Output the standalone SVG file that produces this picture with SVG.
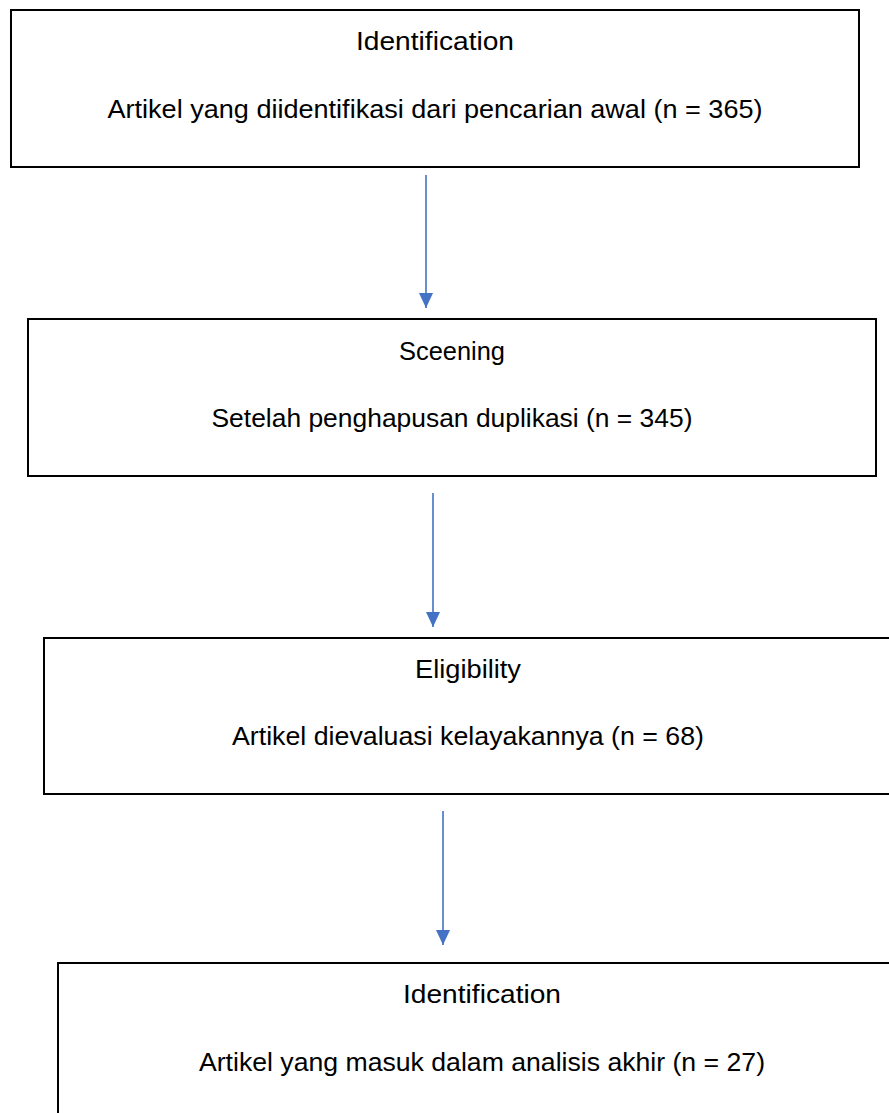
<svg xmlns="http://www.w3.org/2000/svg" width="889" height="1113" viewBox="0 0 889 1113">
<style>
.box{fill:#ffffff;stroke:#000000;stroke-width:2}
.t{font-family:"Liberation Sans",Arial,sans-serif;font-size:26px;fill:#000000;text-anchor:middle}
.conn{stroke:#4472C4;stroke-width:1.6;fill:none}
</style>
<defs>
<marker id="ah" markerUnits="userSpaceOnUse" viewBox="0 -8 16 16" refX="15" refY="0" markerWidth="16" markerHeight="16" orient="auto" overflow="visible">
<path d="M0,-7 L15,0 L0,7 Z" fill="#4472C4"/>
</marker>
</defs>
<rect width="889" height="1113" fill="#ffffff"/>
<g id="connectors">
<line class="conn" x1="426" y1="175" x2="426" y2="308" marker-end="url(#ah)"/>
<line class="conn" x1="433" y1="493" x2="433" y2="627" marker-end="url(#ah)"/>
<line class="conn" x1="443" y1="811" x2="443" y2="945" marker-end="url(#ah)"/>
</g>
<g id="node-identification">
<rect class="box" x="11" y="10" width="848" height="157"/>
<text class="t" x="435" y="50" textLength="158" lengthAdjust="spacingAndGlyphs">Identification</text>
<text class="t" x="435" y="118" textLength="655" lengthAdjust="spacingAndGlyphs">Artikel yang diidentifikasi dari pencarian awal (n = 365)</text>
</g>
<g id="node-screening">
<rect class="box" x="28" y="319" width="848" height="157"/>
<text class="t" x="452" y="360" textLength="106" lengthAdjust="spacingAndGlyphs">Sceening</text>
<text class="t" x="452" y="427" textLength="481" lengthAdjust="spacingAndGlyphs">Setelah penghapusan duplikasi (n = 345)</text>
</g>
<g id="node-eligibility">
<rect class="box" x="44" y="638" width="848" height="156"/>
<text class="t" x="468" y="678" textLength="106" lengthAdjust="spacingAndGlyphs">Eligibility</text>
<text class="t" x="468" y="745" textLength="472" lengthAdjust="spacingAndGlyphs">Artikel dievaluasi kelayakannya (n = 68)</text>
</g>
<g id="node-included">
<rect class="box" x="58" y="963" width="848" height="170"/>
<text class="t" x="482" y="1003" textLength="158" lengthAdjust="spacingAndGlyphs">Identification</text>
<text class="t" x="482" y="1071" textLength="566" lengthAdjust="spacingAndGlyphs">Artikel yang masuk dalam analisis akhir (n = 27)</text>
</g>
</svg>
